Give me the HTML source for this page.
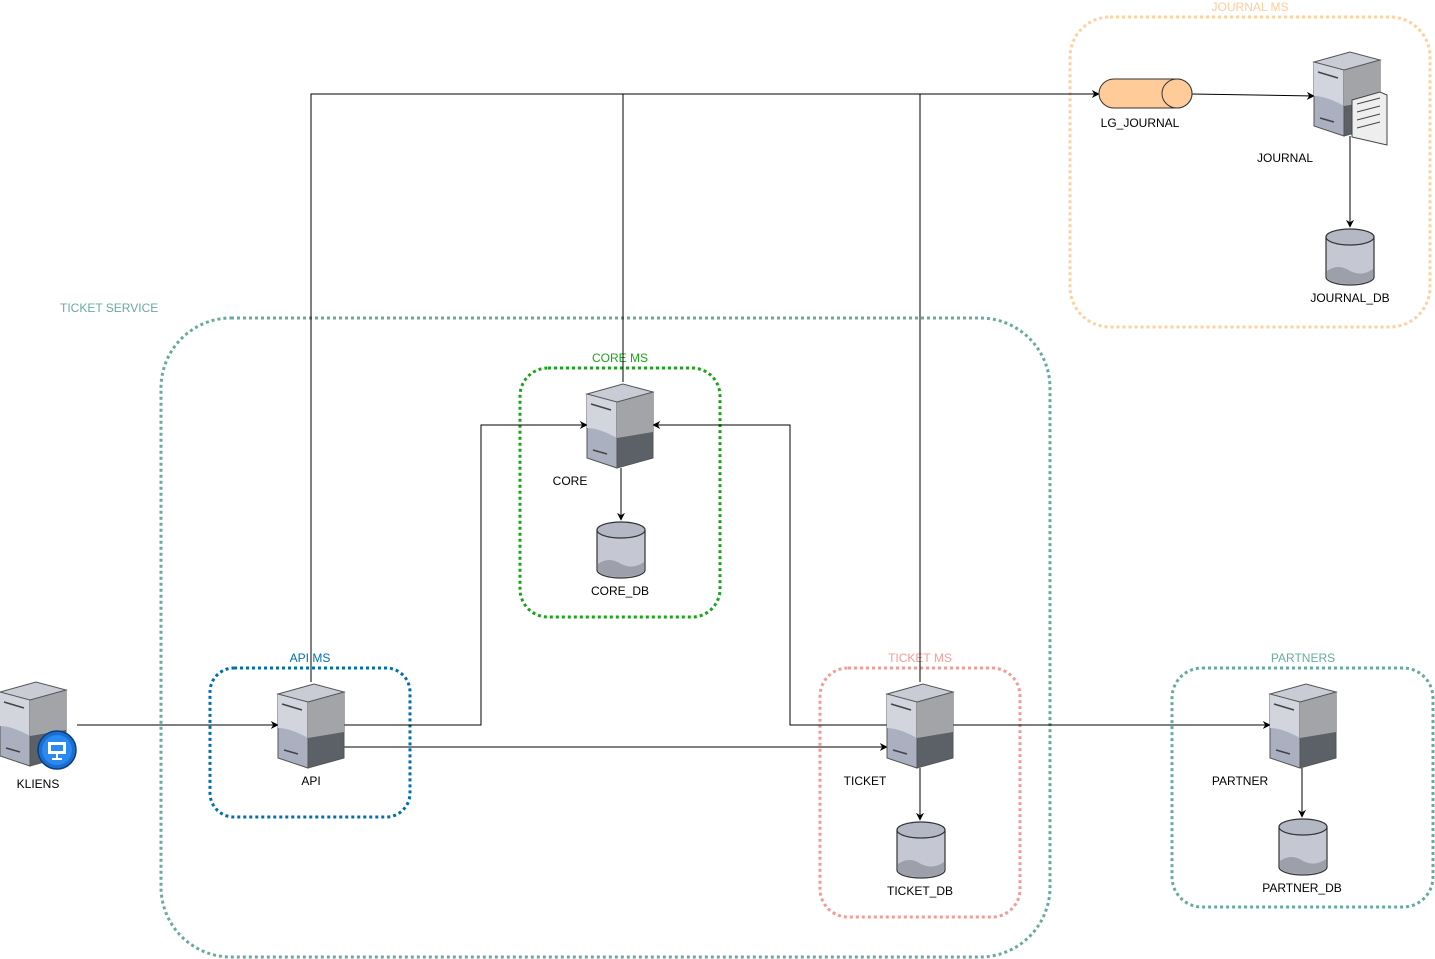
<!DOCTYPE html>
<html><head><meta charset="utf-8"><style>
html,body{margin:0;padding:0;background:#fff}
svg{display:block;font-family:"Liberation Sans",Arial,sans-serif;font-size:12px}
</style></head><body>
<svg width="1435" height="959" viewBox="0 0 1435 959" xmlns="http://www.w3.org/2000/svg">
<defs>
<marker id="a" viewBox="0 0 10 10" refX="9" refY="5" markerWidth="8" markerHeight="8" orient="auto" markerUnits="userSpaceOnUse"><path d="M0,0 L10,5 L0,10 L3,5 Z" fill="#000"/></marker>
<g id="srv">
<path d="M0,12 L30,20 L30,86 L0,76 Z" fill="#aab0bf" stroke="#555" stroke-width="1"/>
<path d="M0,12 L30,20 L30,56 Q12,46 0,46 Z" fill="#d2d5dd"/>
<path d="M30,20 L66,10 L66,76 L30,86 Z" fill="#5c6168" stroke="#555" stroke-width="1"/>
<path d="M30,20 L66,10 L66,50 L30,56 Z" fill="#a2a4a8"/>
<path d="M0,12 L36,2 L66,10 L30,20 Z" fill="#c9ccd4" stroke="#555" stroke-width="1"/>
<path d="M4,22 L24,28 M6,68 L20,72" stroke="#444" stroke-width="1.5"/>
</g>
<g id="db">
<path d="M0,10 L0,50 A24,8 0 0 0 48,50 L48,10" fill="#c5c8d2" stroke="#333" stroke-width="1.2"/>
<path d="M1,44 Q12,36 24,44 Q36,50 47,42 L47,50 A23,7 0 0 1 1,50 Z" fill="#9da0aa"/>
<ellipse cx="24" cy="10" rx="24" ry="8" fill="#b4b8c4" stroke="#333" stroke-width="1.2"/>
</g>
</defs>
<g fill="none" stroke-dasharray="3,3" stroke-width="3">
<rect x="161" y="318" width="889" height="639" rx="70" stroke="#67ab9f"/>
<rect x="520" y="368" width="200" height="249" rx="28" stroke="#1ca31c"/>
<rect x="210" y="668" width="200" height="149" rx="24" stroke="#006eaf"/>
<rect x="820" y="668" width="200" height="249" rx="28" stroke="#f19c99"/>
<rect x="1172" y="668" width="261" height="239" rx="30" stroke="#67ab9f"/>
<rect x="1070" y="17" width="360" height="310" rx="40" stroke="#ffd0a0"/>
</g>
<g fill="#000" text-anchor="middle">
<text x="60" y="312" text-anchor="start" fill="#67ab9f">TICKET SERVICE</text>
<text x="620" y="362" fill="#1ca31c">CORE MS</text>
<text x="310" y="662" fill="#006eaf">API MS</text>
<text x="920" y="662" fill="#f19c99">TICKET MS</text>
<text x="1303" y="662" fill="#67ab9f">PARTNERS</text>
<text x="1250" y="11" fill="#ffcc99">JOURNAL MS</text>
</g>
<g fill="none" stroke="#000" stroke-width="1">
<path d="M77,725 H278" marker-end="url(#a)"/>
<path d="M344,725 H481 V425 H587" marker-end="url(#a)"/>
<path d="M344,747 H887" marker-end="url(#a)"/>
<path d="M887,725 H790 V425 H653" marker-end="url(#a)"/>
<path d="M953,725 H1270" marker-end="url(#a)"/>
<path d="M621,468 V520" marker-end="url(#a)"/>
<path d="M920,768 V820" marker-end="url(#a)"/>
<path d="M1302,768 V817" marker-end="url(#a)"/>
<path d="M311,682 V94 H1099" marker-end="url(#a)"/>
<path d="M623,382 V94"/>
<path d="M920,682 V94"/>
<path d="M1192,94 L1314,96" marker-end="url(#a)"/>
<path d="M1350,136 V227" marker-end="url(#a)"/>
</g>
<use href="#srv" x="0" y="680"/>
<circle cx="57" cy="750" r="19" fill="#1a6fd0" stroke="#0a3d80" stroke-width="1.5"/>
<circle cx="57" cy="750" r="15" fill="#2a8af0"/>
<rect x="48" y="742" width="18" height="12" fill="#fff"/>
<rect x="51" y="745" width="12" height="6" fill="#2a8af0"/>
<path d="M57,754 V759 M52,759 H62" stroke="#fff" stroke-width="2"/>
<use href="#srv" x="278" y="682"/>
<use href="#srv" x="587" y="382"/>
<use href="#srv" x="887" y="682"/>
<use href="#srv" x="1270" y="682"/>
<use href="#srv" x="1314" y="50"/>
<path d="M1352,100 L1380,92 L1387,95 L1387,145 L1352,137 Z" fill="#eee" stroke="#444"/>
<path d="M1357,104 L1380,98 M1357,112 L1380,106 M1357,120 L1380,114 M1357,128 L1380,122" stroke="#444"/>
<use href="#db" x="597" y="520"/>
<use href="#db" x="897" y="820"/>
<use href="#db" x="1279" y="817"/>
<use href="#db" x="1326" y="227"/>
<path d="M1114,79 H1177 A15,14.5 0 0 1 1177,108 H1114 A15,14.5 0 0 1 1114,79 Z" fill="#ffcc99" stroke="#333"/>
<ellipse cx="1177" cy="93.5" rx="15" ry="14.5" fill="#ffcc99" stroke="#333"/>
<g fill="#000" text-anchor="middle">
<text x="38" y="788">KLIENS</text>
<text x="311" y="785">API</text>
<text x="570" y="485">CORE</text>
<text x="620" y="595">CORE_DB</text>
<text x="865" y="785">TICKET</text>
<text x="920" y="895">TICKET_DB</text>
<text x="1240" y="785">PARTNER</text>
<text x="1302" y="892">PARTNER_DB</text>
<text x="1285" y="162">JOURNAL</text>
<text x="1350" y="302">JOURNAL_DB</text>
<text x="1140" y="127">LG_JOURNAL</text>
</g>
</svg>
</body></html>
